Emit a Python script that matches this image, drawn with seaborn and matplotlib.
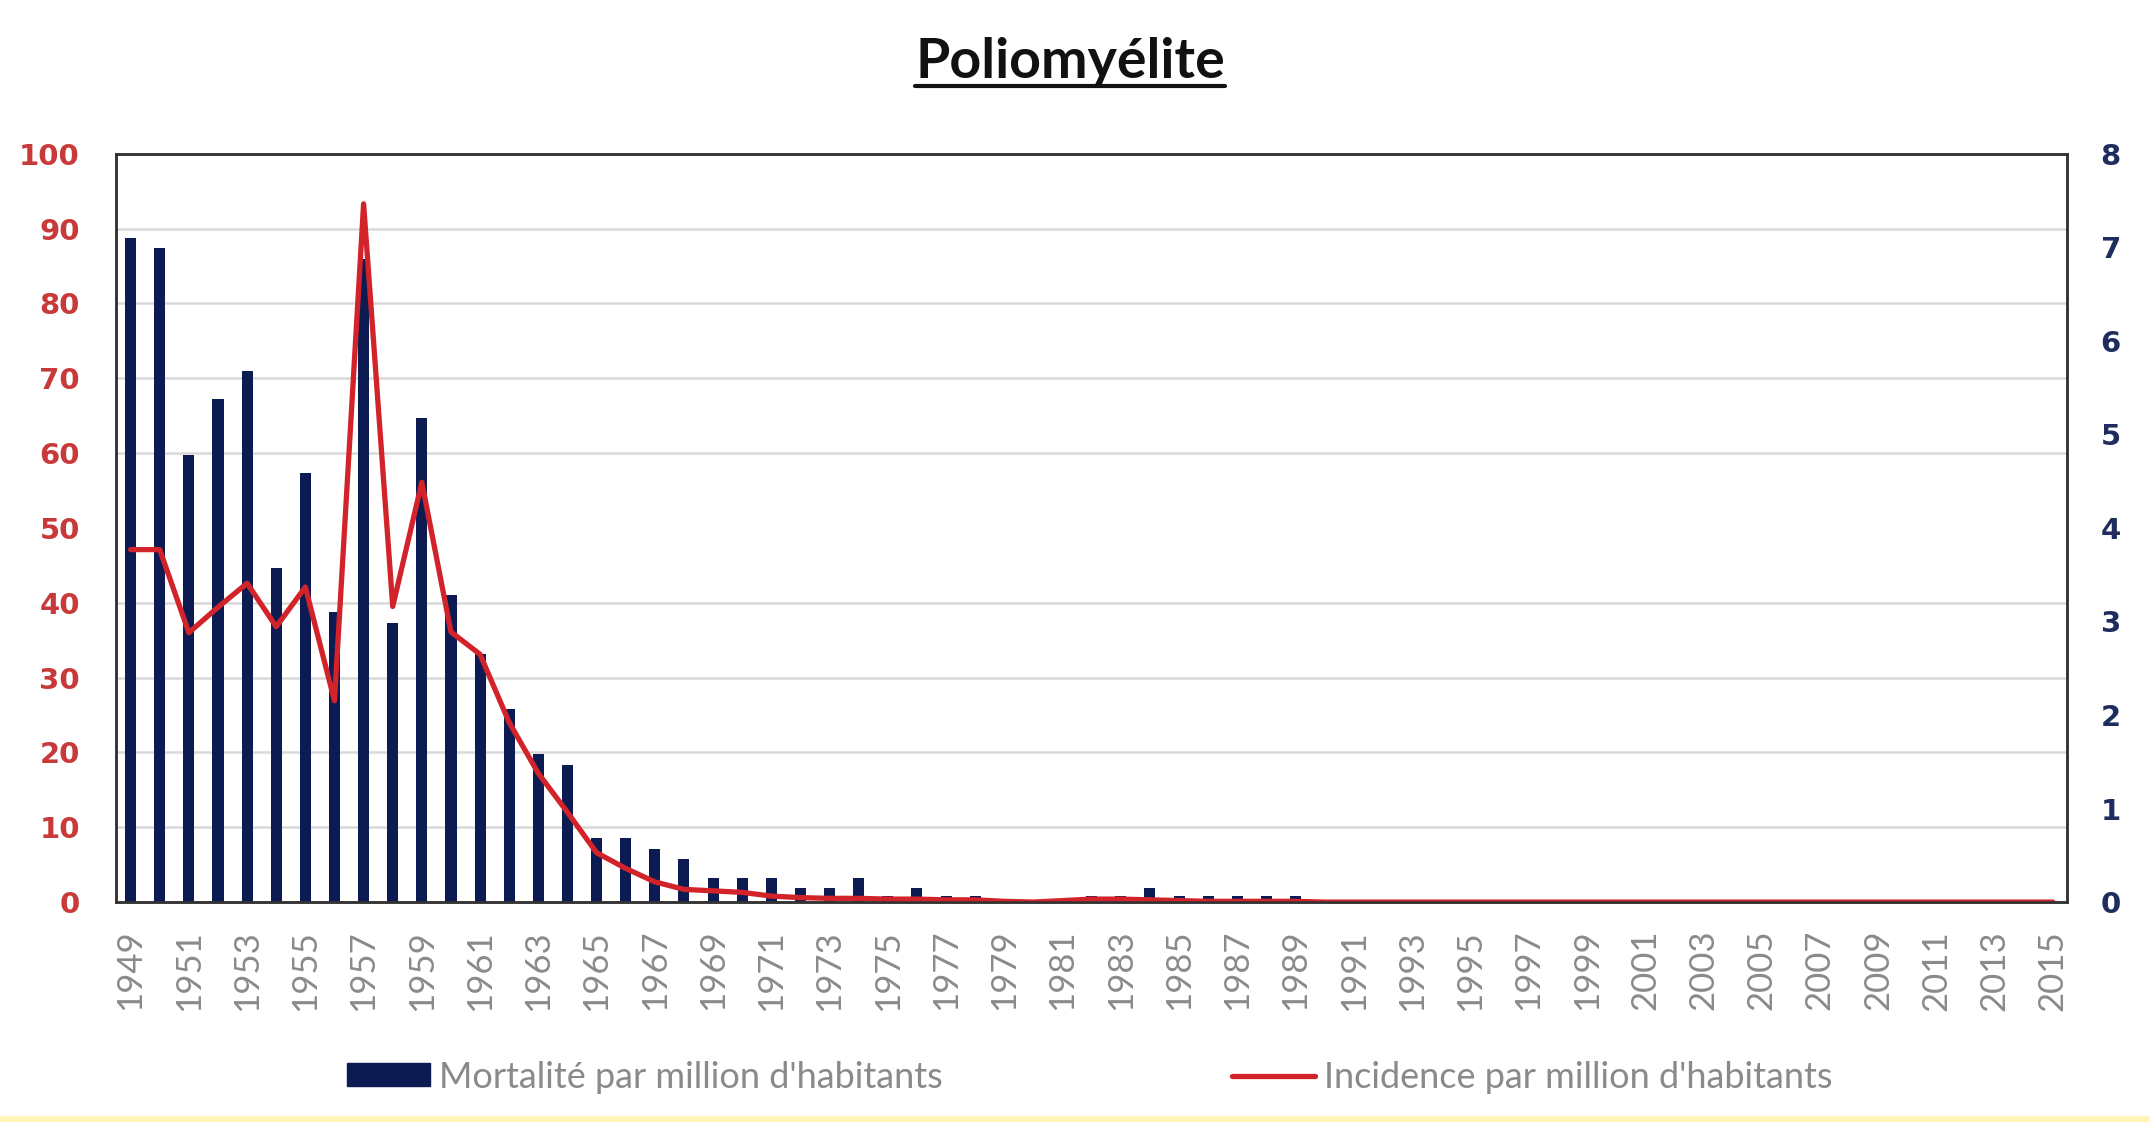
import numpy as np
import pandas as pd
import matplotlib
matplotlib.use("Agg")
import matplotlib.pyplot as plt
import seaborn as sns
from matplotlib.lines import Line2D
from matplotlib.patches import Patch, Rectangle
from matplotlib.ticker import MultipleLocator

# data
years = list(range(1949, 2016))
# mortality per million inhabitants (right axis, 0-8)
mortality = [7.10, 6.99, 4.78, 5.38, 5.68, 3.57, 4.59, 3.10, 6.87, 2.98,
             5.18, 3.28, 2.65, 2.06, 1.58, 1.47, 0.69, 0.69, 0.57, 0.46,
             0.26, 0.26, 0.26, 0.15, 0.15, 0.26, 0.06, 0.15, 0.06, 0.06,
             0.0, 0.0, 0.0, 0.06, 0.06, 0.15, 0.06, 0.06, 0.06, 0.06,
             0.06] + [0.0] * 26
# incidence per million inhabitants (left axis, 0-100)
incidence = [47.1, 47.1, 36.0, 39.4, 42.6, 36.8, 42.1, 26.9, 93.3, 39.5,
             56.1, 36.1, 33.1, 24.0, 17.2, 12.0, 6.6, 4.5, 2.7, 1.7,
             1.5, 1.3, 0.8, 0.6, 0.5, 0.5, 0.4, 0.4, 0.3, 0.3,
             0.1, 0.0, 0.2, 0.4, 0.4, 0.3, 0.2, 0.1, 0.1, 0.1,
             0.1] + [0.0] * 26

title = "Poliomyélite"
label_mort = "Mortalité par million d'habitants"
label_inc = "Incidence par million d'habitants"

navy = "#0c1c52"
red = "#d2232a"
red_txt = "#c83a3a"
navy_txt = "#1f2d5e"
grey_txt = "#8a8a8a"

df = pd.DataFrame({"year": years, "mortality": mortality, "incidence": incidence})

sns.set_style("white")
plt.rcParams["font.family"] = ["Lato", "DejaVu Sans"]

fig = plt.figure(figsize=(21.49, 11.22), dpi=100)
ax = fig.add_axes([0.054, 0.196, 0.908, 0.667])

# bars on the primary axes (values on the right side)
sns.barplot(data=df, x="year", y="mortality", native_scale=True, color=navy,
            width=0.38, saturation=1, edgecolor=navy, linewidth=0, ax=ax)
ax.set_ylim(0, 8)
ax.yaxis.set_minor_locator(MultipleLocator(0.8))
ax.grid(which="minor", axis="y", color="#d9d9d9", linewidth=1.8)
ax.set_axisbelow(True)

# line on a twin axes, values on the left side
ax2 = ax.twinx()
sns.lineplot(data=df, x="year", y="incidence", color=red, linewidth=3.8, ax=ax2)
ax2.set_ylim(0, 100)
ax2.set_yticks(np.arange(0, 101, 10))
ax.set_zorder(1)
ax2.set_zorder(2)
ax2.patch.set_visible(False)
ax.yaxis.tick_right()
ax2.yaxis.tick_left()

ax.set_xlim(years[0] - 0.5, years[-1] + 0.5)
ax.set_xticks(years[::2])
ax.set_xticklabels([str(y) for y in years[::2]], rotation=90, color=grey_txt,
                   fontsize=25)
ax.set_yticks(np.arange(0, 9, 1))
ax.set_yticklabels([str(v) for v in range(9)], color=navy_txt, fontsize=21,
                   fontweight="bold", family=["DejaVu Sans"])
ax2.set_yticklabels([str(v) for v in range(0, 101, 10)], color=red_txt,
                    fontsize=21, fontweight="bold", family=["DejaVu Sans"])
ax.tick_params(axis="x", length=0, pad=20)
ax.tick_params(axis="y", which="both", length=0, pad=24)
ax2.tick_params(axis="y", length=0, pad=26)
ax.set_xlabel("")
ax.set_ylabel("")
ax2.set_xlabel("")
ax2.set_ylabel("")

for a in (ax, ax2):
    for s in a.spines.values():
        s.set_color("#333333")
        s.set_linewidth(1.8)

# title with underline
t = fig.text(0.498, 0.945, title, ha="center", va="center", fontsize=40,
             fontweight="bold", color="#111111")
fig.canvas.draw()
bb = t.get_window_extent()
fig.add_artist(Line2D([bb.x0, bb.x1], [bb.y0 + 1, bb.y0 + 1], color="#111111",
                      linewidth=3.0, transform=None))

handles = [Patch(facecolor=navy, edgecolor=navy),
           Line2D([], [], color=red, linewidth=3.8)]
fig.legend(handles, [label_mort, label_inc], loc="center",
           bbox_to_anchor=(0.507, 0.04), ncol=2, frameon=False, fontsize=26,
           labelcolor=grey_txt, handlelength=2.3, handleheight=0.6,
           handletextpad=0.25, columnspacing=8)

# pale yellow band along the bottom edge
fig.add_artist(Rectangle((0, 0), 1, 0.005, transform=fig.transFigure,
                         color="#fff3b8", zorder=0))

fig.savefig("out.png", dpi=100)
